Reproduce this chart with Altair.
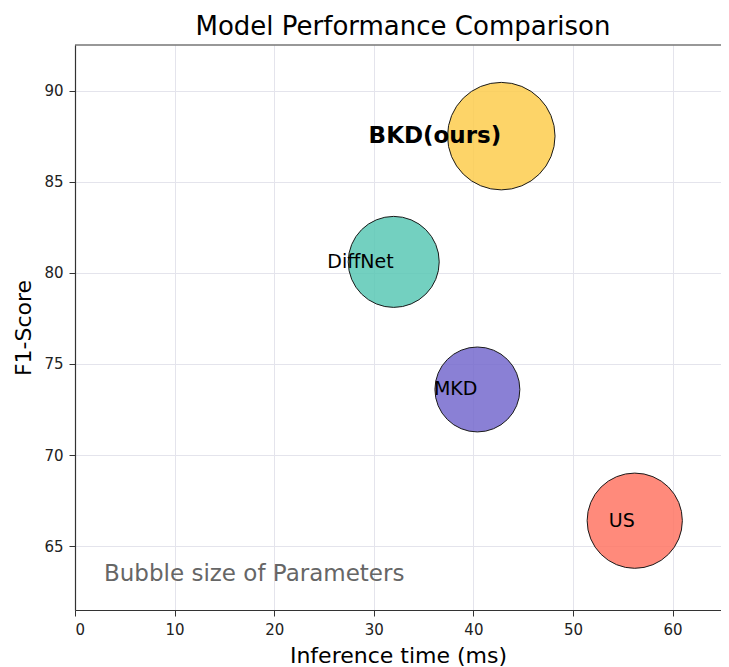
import altair as alt
import pandas as pd

# ---- data ----
models = ["BKD(ours)", "DiffNet", "MKD", "US"]
inference_ms = [42.8, 32.0, 40.4, 56.2]
f1_score = [87.5, 80.6, 73.6, 66.4]
params = [45.5, 32.6, 28.4, 35.7]
colors = ["#FDCC4D", "#5AC8B5", "#756ACE", "#FF7564"]
x_ticks = [0, 10, 20, 30, 40, 50, 60]
y_ticks = [65, 70, 75, 80, 85, 90]
note = "Bubble size of Parameters"

df = pd.DataFrame({"model": models, "time": inference_ms, "f1": f1_score, "params": params})

W, H = 646, 565
FONT = "DejaVu Sans"
x_scale = alt.Scale(domain=[0, 64.86], nice=False, zero=False)
y_scale = alt.Scale(domain=[61.5, 92.5], nice=False, zero=False)

x_enc = alt.X("time:Q", scale=x_scale,
              axis=alt.Axis(values=x_ticks, title="Inference time (ms)", format="d"))
y_enc = alt.Y("f1:Q", scale=y_scale,
              axis=alt.Axis(values=y_ticks, title="F1-Score", format="d"))

base = alt.Chart(df)

bubbles = base.mark_circle(stroke="#1a1a1a", strokeWidth=1, fillOpacity=0.85,
                           strokeOpacity=1, opacity=1).encode(
    x=x_enc, y=y_enc,
    color=alt.Color("model:N", scale=alt.Scale(domain=models, range=colors), legend=None),
    size=alt.Size("params:Q", scale=alt.Scale(domain=[0, 50], range=[0, 12700]), legend=None),
)

labels = base.mark_text(align="right", baseline="middle", font=FONT, fontSize=19,
                        color="black").encode(
    x=alt.X("time:Q", scale=x_scale), y=alt.Y("f1:Q", scale=y_scale), text="model:N"
).transform_filter(alt.datum.model != models[0])

label_ours = base.mark_text(align="right", baseline="middle", font=FONT, fontSize=23,
                            fontWeight="bold", color="black").encode(
    x=alt.X("time:Q", scale=x_scale), y=alt.Y("f1:Q", scale=y_scale), text="model:N"
).transform_filter(alt.datum.model == models[0])

note_txt = alt.Chart(pd.DataFrame({"t": [note]})).mark_text(
    align="left", baseline="alphabetic", font=FONT, fontSize=23, color="#666666"
).encode(x=alt.value(29), y=alt.value(536), text="t:N")

top_spine = alt.Chart(pd.DataFrame({"t": [0]})).mark_rule(color="#333333", strokeWidth=1.2).encode(
    x=alt.value(0), x2=alt.value(W), y=alt.value(0))

chart = alt.layer(bubbles, labels, label_ours, note_txt, top_spine).properties(
    width=W, height=H,
    padding={"left": 67, "top": 37, "right": 0, "bottom": 57},
    autosize=alt.AutoSizeParams(type="none"),
    title=alt.TitleParams("Model Performance Comparison", font=FONT, fontSize=26,
                          fontWeight="normal", color="black", offset=4, dx=5),
).configure_view(strokeWidth=0).configure_axis(
    labelFont=FONT, labelFontSize=15, labelColor="#222222", labelPadding=6,
    titleFont=FONT, titleFontSize=22, titleFontWeight="normal", titleColor="black",
    domainColor="#333333", domainWidth=1.2, tickColor="#333333", tickSize=6, tickWidth=1,
    gridColor="#e4e4ec", gridWidth=1,
).configure_axisX(titlePadding=8).configure_axisY(titlePadding=8)

chart.save("out.html", embed_options={"renderer": "svg", "actions": False})
